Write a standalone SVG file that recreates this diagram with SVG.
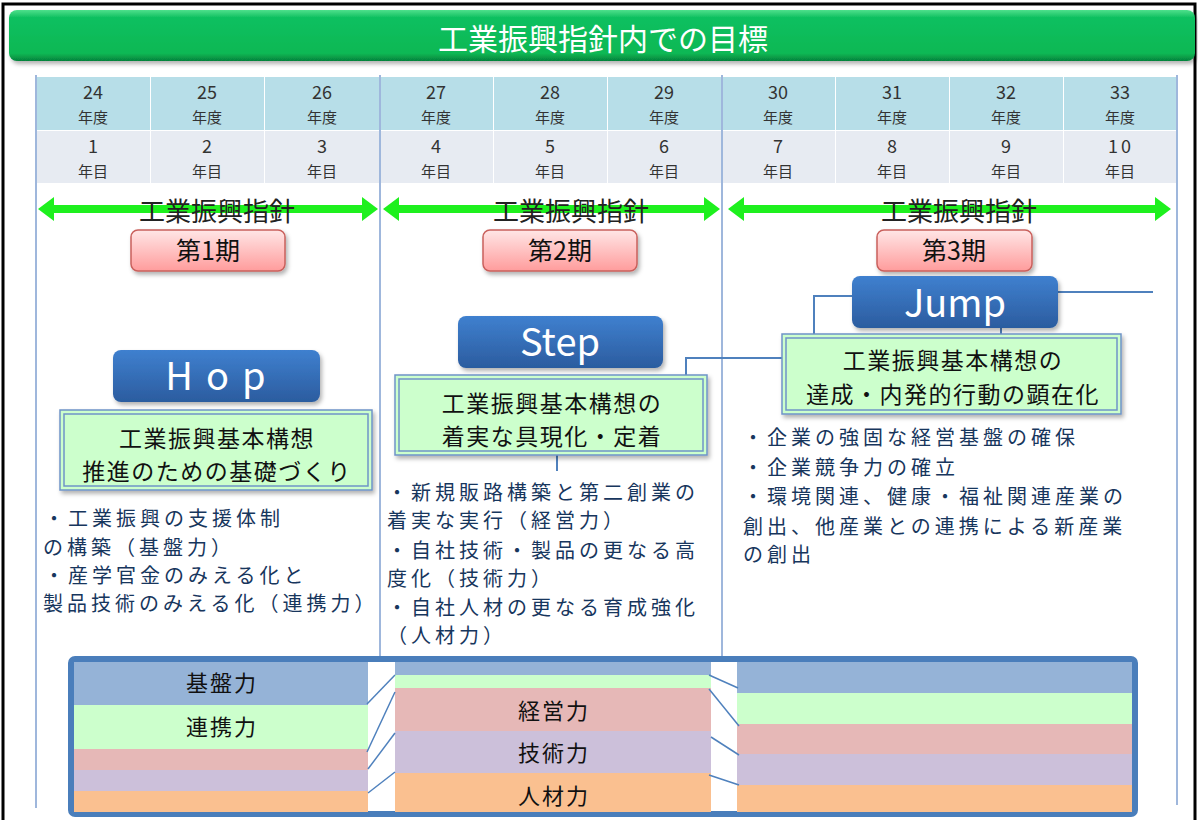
<svg xmlns="http://www.w3.org/2000/svg" width="1198" height="820" viewBox="0 0 1198 820">
<defs>
<linearGradient id="gTitle" x1="0" y1="0" x2="0" y2="1">
<stop offset="0" stop-color="#4fe08c"/><stop offset="0.15" stop-color="#10c060"/><stop offset="0.85" stop-color="#08b854"/><stop offset="1" stop-color="#06823c"/>
</linearGradient>
<linearGradient id="gPink" x1="0" y1="0" x2="0" y2="1">
<stop offset="0" stop-color="#ffe6e6"/><stop offset="1" stop-color="#ff9c9c"/>
</linearGradient>
<linearGradient id="gBlue" x1="0" y1="0" x2="0" y2="1">
<stop offset="0" stop-color="#3f80cf"/><stop offset="1" stop-color="#2b5c9f"/>
</linearGradient>
<filter id="sh" x="-10%" y="-10%" width="125%" height="135%">
<feDropShadow dx="2" dy="3" stdDeviation="2" flood-color="#000" flood-opacity="0.3"/>
</filter>
<style>
text{font-family:"Noto Sans CJK JP","Liberation Sans",sans-serif;}
.hd{font-size:18px;fill:#333;text-anchor:middle;}
.hd2{font-size:15px;fill:#333;text-anchor:middle;}
.vl{stroke:#7f9fd0;stroke-width:1.5;fill:none;}
.shishin{font-size:26px;fill:#222;text-anchor:middle;}
.ki{fill:url(#gPink);stroke:#c9605c;stroke-width:1.5;}
.kit{font-size:25px;fill:#111;text-anchor:middle;}
.btn{fill:url(#gBlue);}
.btnt{font-size:38px;fill:#fff;text-anchor:middle;}
.gb{fill:#ccffcc;stroke:#6f94c7;stroke-width:1.5;}
.gbi{fill:none;stroke:#6f94c7;stroke-width:1.5;}
.gbt{font-size:23px;fill:#111;text-anchor:middle;letter-spacing:1.5px;}
.cn{stroke:#4f81bd;stroke-width:2;fill:none;}
.bl{font-size:20px;fill:#17365d;letter-spacing:4px;}
.bd{font-size:22px;fill:#111;text-anchor:middle;letter-spacing:2px;}
.ln{stroke:#4f81bd;stroke-width:1.5;}
</style>
</defs>
<rect x="0" y="0" width="1198" height="820" fill="#fff"/>
<path d="M3,840 L3,4 L1195,4 L1195,840" fill="none" stroke="#000" stroke-width="3"/>

<g id="title">
<rect x="9" y="10" width="1186" height="51" rx="8" fill="url(#gTitle)" filter="url(#sh)"/>
<text x="603" y="50" font-size="30" fill="#fff" text-anchor="middle">工業振興指針内での目標</text>
</g>

<g id="table">
<g fill="#b7dee8">
<rect x="37" y="77" width="113" height="53"/><rect x="151" y="77" width="113" height="53"/><rect x="265" y="77" width="114" height="53"/>
<rect x="381" y="77" width="112" height="53"/><rect x="494" y="77" width="113" height="53"/><rect x="608" y="77" width="113" height="53"/>
<rect x="723" y="77" width="112" height="53"/><rect x="836" y="77" width="113" height="53"/><rect x="950" y="77" width="113" height="53"/><rect x="1064" y="77" width="112" height="53"/>
</g>
<g fill="#e7ebf2">
<rect x="37" y="131" width="113" height="52"/><rect x="151" y="131" width="113" height="52"/><rect x="265" y="131" width="114" height="52"/>
<rect x="381" y="131" width="112" height="52"/><rect x="494" y="131" width="113" height="52"/><rect x="608" y="131" width="113" height="52"/>
<rect x="723" y="131" width="112" height="52"/><rect x="836" y="131" width="113" height="52"/><rect x="950" y="131" width="113" height="52"/><rect x="1064" y="131" width="112" height="52"/>
</g>
<g class="hd">
<text x="93" y="99">24</text><text x="207" y="99">25</text><text x="322" y="99">26</text>
<text x="436" y="99">27</text><text x="550" y="99">28</text><text x="664" y="99">29</text>
<text x="778" y="99">30</text><text x="892" y="99">31</text><text x="1006" y="99">32</text><text x="1120" y="99">33</text>
<text x="93" y="153">1</text><text x="207" y="153">2</text><text x="322" y="153">3</text>
<text x="436" y="153">4</text><text x="550" y="153">5</text><text x="664" y="153">6</text>
<text x="778" y="153">7</text><text x="892" y="153">8</text><text x="1006" y="153">9</text><text x="1121" y="153" letter-spacing="3">10</text>
</g>
<g class="hd2">
<text x="93" y="123">年度</text><text x="207" y="123">年度</text><text x="322" y="123">年度</text>
<text x="436" y="123">年度</text><text x="550" y="123">年度</text><text x="664" y="123">年度</text>
<text x="778" y="123">年度</text><text x="892" y="123">年度</text><text x="1006" y="123">年度</text><text x="1120" y="123">年度</text>
<text x="93" y="177">年目</text><text x="207" y="177">年目</text><text x="322" y="177">年目</text>
<text x="436" y="177">年目</text><text x="550" y="177">年目</text><text x="664" y="177">年目</text>
<text x="778" y="177">年目</text><text x="892" y="177">年目</text><text x="1006" y="177">年目</text><text x="1120" y="177">年目</text>
</g>
</g>

<g id="dividers">
<line class="vl" x1="36" y1="75" x2="36" y2="808"/>
<line class="vl" x1="380" y1="75" x2="380" y2="660"/>
<line class="vl" x1="722" y1="75" x2="722" y2="660"/>
<line class="vl" x1="1177" y1="75" x2="1177" y2="805"/>
</g>

<g id="arrows">
<g fill="#1ef01e">
<path d="M38,209 L54,197 L54,205 L362,205 L362,197 L378,209 L362,221 L362,213 L54,213 L54,221 Z"/>
<path d="M383,209 L399,197 L399,205 L704,205 L704,197 L720,209 L704,221 L704,213 L399,213 L399,221 Z"/>
<path d="M728,209 L744,197 L744,205 L1155,205 L1155,197 L1171,209 L1155,221 L1155,213 L744,213 L744,221 Z"/>
</g>
<text class="shishin" x="217" y="221">工業振興指針</text>
<text class="shishin" x="571" y="221">工業振興指針</text>
<text class="shishin" x="959" y="221">工業振興指針</text>
</g>

<g id="ki1"><rect class="ki" x="131" y="230" width="154" height="41" rx="7" filter="url(#sh)"/><text class="kit" x="208" y="260">第1期</text></g>
<g id="ki2"><rect class="ki" x="483" y="230" width="154" height="41" rx="7" filter="url(#sh)"/><text class="kit" x="560" y="260">第2期</text></g>
<g id="ki3"><rect class="ki" x="877" y="230" width="155" height="41" rx="7" filter="url(#sh)"/><text class="kit" x="954" y="260">第3期</text></g>

<g id="connectors">
<polyline class="cn" points="686,376 686,358 784,358"/>
<polyline class="cn" points="814,335 814,296 853,296"/>
<line class="cn" x1="1057" y1="292" x2="1153" y2="292"/>
<line class="cn" x1="1001" y1="327" x2="1001" y2="335"/>
<line class="cn" x1="557" y1="455" x2="557" y2="471"/>
</g>

<g id="hop"><rect class="btn" x="113" y="350" width="207" height="52" rx="8" filter="url(#sh)"/><text class="btnt" x="222" y="390" letter-spacing="13">Hop</text></g>
<g id="step"><rect class="btn" x="458" y="316" width="205" height="52" rx="8" filter="url(#sh)"/><text class="btnt" x="560" y="356">Step</text></g>
<g id="jump"><rect class="btn" x="852" y="276" width="206" height="52" rx="8" filter="url(#sh)"/><text class="btnt" x="955" y="317">Jump</text></g>

<g id="goal1">
<rect class="gb" x="60" y="410" width="312" height="80" filter="url(#sh)"/>
<rect class="gbi" x="64" y="414" width="304" height="72"/>
<text class="gbt" x="217" y="447">工業振興基本構想</text>
<text class="gbt" x="217" y="480">推進のための基礎づくり</text>
</g>
<g id="goal2">
<rect class="gb" x="395" y="375" width="312" height="80" filter="url(#sh)"/>
<rect class="gbi" x="399" y="379" width="304" height="72"/>
<text class="gbt" x="552" y="412">工業振興基本構想の</text>
<text class="gbt" x="552" y="445">着実な具現化・定着</text>
</g>
<g id="goal3">
<rect class="gb" x="782" y="334" width="339" height="80" filter="url(#sh)"/>
<rect class="gbi" x="786" y="338" width="331" height="72"/>
<text class="gbt" x="953" y="369">工業振興基本構想の</text>
<text class="gbt" x="953" y="403">達成・内発的行動の顕在化</text>
</g>

<g id="bullets1" class="bl">
<text x="44" y="526">・工業振興の支援体制</text>
<text x="43" y="555">の構築（基盤力）</text>
<text x="44" y="583">・産学官金のみえる化と</text>
<text x="43" y="611">製品技術のみえる化（連携力）</text>
</g>
<g id="bullets2" class="bl">
<text x="387" y="500">・新規販路構築と第二創業の</text>
<text x="387" y="528">着実な実行（経営力）</text>
<text x="387" y="558">・自社技術・製品の更なる高</text>
<text x="387" y="586">度化（技術力）</text>
<text x="387" y="615">・自社人材の更なる育成強化</text>
<text x="387" y="643">（人材力）</text>
</g>
<g id="bullets3" class="bl">
<text x="743" y="445">・企業の強固な経営基盤の確保</text>
<text x="743" y="475">・企業競争力の確立</text>
<text x="743" y="504">・環境関連、健康・福祉関連産業の</text>
<text x="743" y="534">創出、他産業との連携による新産業</text>
<text x="743" y="562">の創出</text>
</g>

<g id="capability">
<rect x="71" y="659" width="1064" height="155" rx="4" fill="#fff" stroke="#4a7ebb" stroke-width="6"/>
<rect x="74" y="662" width="294" height="43" fill="#95b3d7"/>
<rect x="74" y="705" width="294" height="44" fill="#ccffcc"/>
<rect x="74" y="749" width="294" height="21" fill="#e6b8b7"/>
<rect x="74" y="770" width="294" height="21" fill="#ccc0da"/>
<rect x="74" y="791" width="294" height="21" fill="#fac090"/>
<rect x="395" y="662" width="316" height="13" fill="#95b3d7"/>
<rect x="395" y="675" width="316" height="13" fill="#ccffcc"/>
<rect x="395" y="688" width="316" height="43" fill="#e6b8b7"/>
<rect x="395" y="731" width="316" height="42" fill="#ccc0da"/>
<rect x="395" y="773" width="316" height="39" fill="#fac090"/>
<rect x="737" y="662" width="395" height="31" fill="#95b3d7"/>
<rect x="737" y="693" width="395" height="31" fill="#ccffcc"/>
<rect x="737" y="724" width="395" height="30" fill="#e6b8b7"/>
<rect x="737" y="754" width="395" height="31" fill="#ccc0da"/>
<rect x="737" y="785" width="395" height="27" fill="#fac090"/>
<text class="bd" x="222" y="691">基盤力</text>
<text class="bd" x="222" y="735">連携力</text>
<text class="bd" x="554" y="719">経営力</text>
<text class="bd" x="554" y="761">技術力</text>
<text class="bd" x="554" y="804">人材力</text>
<line class="ln" x1="367" y1="704" x2="395" y2="675"/>
<line class="ln" x1="367" y1="752" x2="395" y2="692"/>
<line class="ln" x1="368" y1="769" x2="395" y2="733"/>
<line class="ln" x1="368" y1="793" x2="395" y2="772"/>
<line class="ln" x1="709" y1="675" x2="738" y2="688"/>
<line class="ln" x1="709" y1="689" x2="739" y2="726"/>
<line class="ln" x1="711" y1="737" x2="739" y2="755"/>
<line class="ln" x1="709" y1="775" x2="739" y2="785"/>
</g>
</svg>
